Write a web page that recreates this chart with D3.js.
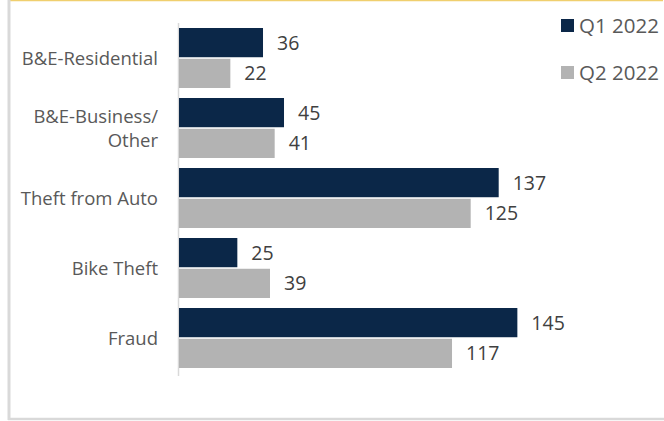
<!DOCTYPE html>
<html>
<head>
<meta charset="utf-8">
<script src="https://cdn.jsdelivr.net/npm/d3@7"></script>
<style>
  body { margin: 0; background: #fff; }
  svg { display: block; font-family: "Open Sans", sans-serif; }
</style>
</head>
<body>
<div id="chart"></div>
<script>
// data
const categories = ["B&E-Residential", "B&E-Business/ Other", "Theft from Auto", "Bike Theft", "Fraud"];
const categoryLines = [["B&E-Residential"], ["B&E-Business/", "Other"], ["Theft from Auto"], ["Bike Theft"], ["Fraud"]];
const seriesNames = ["Q1 2022", "Q2 2022"];
const q1 = [36, 45, 137, 25, 145];
const q2 = [22, 41, 125, 39, 117];
const colors = ["#0b2748", "#b3b3b3"];

const W = 664, H = 421;

const svg = d3.select("#chart").append("svg")
  .attr("width", W)
  .attr("height", H);

// frame
svg.append("rect").attr("x", 0).attr("y", 0).attr("width", W).attr("height", H).attr("fill", "#fff");
svg.append("line").attr("x1", 10).attr("x2", 663).attr("y1", 0.5).attr("y2", 0.5)
  .attr("stroke", "#f0cf6e").attr("stroke-width", 1.5);
svg.append("line").attr("x1", 9).attr("x2", 9).attr("y1", 0).attr("y2", 420)
  .attr("stroke", "#d9d9d9").attr("stroke-width", 3);
svg.append("line").attr("x1", 8).attr("x2", 664).attr("y1", 419).attr("y2", 419)
  .attr("stroke", "#d9d9d9").attr("stroke-width", 2.5);

// scales
const x = d3.scaleLinear().domain([0, 200]).range([179, 645.7]);
const y = d3.scaleBand().domain(categories).range([23, 373])
  .paddingInner(0.143).paddingOuter(0.0715);
const ySub = d3.scaleBand().domain(seriesNames).range([0, y.bandwidth()]).paddingInner(0.05);

const rows = categories.map((c, i) => ({ cat: c, lines: categoryLines[i], vals: [q1[i], q2[i]] }));

// axis line
svg.append("line")
  .attr("x1", 178.5).attr("x2", 178.5)
  .attr("y1", 23).attr("y2", 376)
  .attr("stroke", "#d9d9d9").attr("stroke-width", 1.5);

// bars
const g = svg.selectAll("g.grp").data(rows).join("g")
  .attr("class", "grp")
  .attr("transform", d => `translate(0,${y(d.cat)})`);

g.selectAll("rect")
  .data(d => d.vals.map((v, k) => ({ v, k })))
  .join("rect")
  .attr("x", x(0))
  .attr("y", d => ySub(seriesNames[d.k]))
  .attr("width", d => x(d.v) - x(0))
  .attr("height", ySub.bandwidth())
  .attr("fill", d => colors[d.k]);

g.selectAll("text.val")
  .data(d => d.vals.map((v, k) => ({ v, k })))
  .join("text")
  .attr("class", "val")
  .attr("x", d => x(d.v) + 14)
  .attr("y", d => ySub(seriesNames[d.k]) + ySub.bandwidth() / 2)
  .attr("dy", "0.36em")
  .attr("fill", "#404040")
  .style("font-size", "19.5px")
  .text(d => d.v);

// category labels
const cl = svg.selectAll("text.cat").data(rows).join("text")
  .attr("class", "cat")
  .attr("text-anchor", "end")
  .attr("fill", "#595959")
  .style("font-size", "18.5px");
cl.each(function(d) {
  const n = d.lines.length, lh = 24;
  const cy = y(d.cat) + y.bandwidth() / 2;
  d3.select(this).selectAll("tspan").data(d.lines).join("tspan")
    .attr("x", 158)
    .attr("y", (t, i) => cy + (i - (n - 1) / 2) * lh)
    .attr("dy", "0.36em")
    .text(t => t);
});

// legend
const legY = [26, 73];
const leg = svg.selectAll("g.leg").data(seriesNames).join("g")
  .attr("class", "leg")
  .attr("transform", (d, i) => `translate(561,${legY[i]})`);
leg.append("rect").attr("x", 0).attr("y", -7).attr("width", 13).attr("height", 13)
  .attr("fill", (d, i) => colors[i]);
leg.append("text").attr("x", 18).attr("y", 0).attr("dy", "0.36em")
  .attr("fill", "#595959").style("font-size", "20.5px")
  .text(d => d);
</script>
</body>
</html>
